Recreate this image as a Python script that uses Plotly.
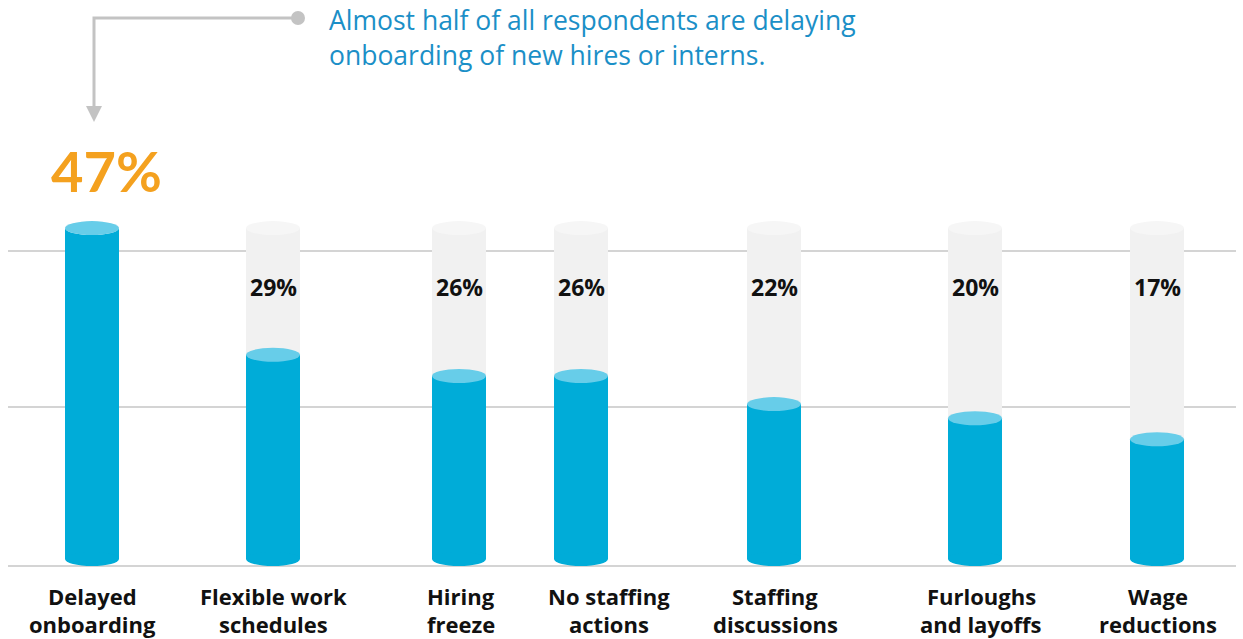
import plotly.graph_objects as go

# Survey results: share of respondents taking each staffing action
categories = [
    "Delayed<br>onboarding",
    "Flexible work<br>schedules",
    "Hiring<br>freeze",
    "No staffing<br>actions",
    "Staffing<br>discussions",
    "Furloughs<br>and layoffs",
    "Wage<br>reductions",
]
values = [47, 29, 26, 26, 22, 20, 17]
value_labels = ["47%", "29%", "26%", "26%", "22%", "20%", "17%"]
headline_lines = ["Almost half of all respondents are delaying",
                  "onboarding of new hires or interns."]

# Layout constants (canvas is laid out in pixel units)
W, H = 1243, 639
COL_X = [92, 273, 459, 581, 774, 975, 1157]        # column centres
LABEL_SHIFT = [0, 0, 2, 28, 1, 6, 1]               # nudges for category captions
BAR_W = 54
ZERO_PX = 559          # pixel row of the value 0
PX_PER_UNIT = 7.04     # pixels per percentage point

BLUE = "#00acd8"
BLUE_TOP = "#67cde9"
GREY = "#f1f1f1"
GREY_TOP = "#f6f6f6"
LINE = "#c6c6c6"
ORANGE = "#f4a11f"
TEXT_BLUE = "#1b8fc7"
FONT = "Open Sans"
FONT_BIG = "Lato"

y_max = ZERO_PX / PX_PER_UNIT
y_min = -(H - ZERO_PX) / PX_PER_UNIT


def pyp(px):
    """pixel row -> paper fraction"""
    return 1 - px / H


full = max(values)

fig = go.Figure()
fig.add_trace(go.Bar(x=COL_X, y=[full] * len(values), width=BAR_W,
                     marker=dict(color=GREY, line=dict(width=0)), hoverinfo="skip"))
fig.add_trace(go.Bar(x=COL_X, y=values, width=BAR_W,
                     marker=dict(color=BLUE, line=dict(width=0)),
                     hovertext=[c.replace("<br>", " ") for c in categories]))

shapes = []
# horizontal rules
for row in (251, 407, 566):
    shapes.append(dict(type="line", xref="x", yref="paper", x0=8, x1=1236,
                       y0=pyp(row), y1=pyp(row), layer="below",
                       line=dict(color=LINE, width=1.5)))


def ellipse(xc, yc, color):
    return dict(type="circle", xref="x", yref="y", xsizemode="pixel", ysizemode="pixel",
                xanchor=xc, yanchor=yc, x0=-BAR_W / 2, x1=BAR_W / 2, y0=-7, y1=7,
                fillcolor=color, line=dict(width=0), layer="above")


for xc in COL_X:
    shapes.append(ellipse(xc, full, GREY_TOP))
for xc in COL_X:
    shapes.append(ellipse(xc, 0, BLUE))
for xc, v in zip(COL_X, values):
    shapes.append(ellipse(xc, v, BLUE_TOP))

# callout connector: dot, elbow line and arrowhead
shapes.append(dict(type="circle", xref="x", yref="paper",
                   x0=291, x1=305, y0=pyp(25), y1=pyp(11),
                   fillcolor="#c3c3c3", line=dict(width=0)))
shapes.append(dict(type="path", xref="x", yref="paper",
                   path=f"M 298 {pyp(18)} L 94 {pyp(18)} L 94 {pyp(108)}",
                   line=dict(color="#c3c3c3", width=3)))
shapes.append(dict(type="path", xref="x", yref="paper",
                   path=f"M 86 {pyp(106)} L 102 {pyp(106)} L 94 {pyp(122)} Z",
                   fillcolor="#c3c3c3", line=dict(width=0)))

annotations = []
# headline, one annotation per line
for row, line in zip((20, 55), headline_lines):
    annotations.append(dict(x=328, y=pyp(row), xref="x", yref="paper", text=line,
                            showarrow=False, xanchor="left", yanchor="middle", align="left",
                            borderpad=0,
                            font=dict(family=FONT, size=26.5, color=TEXT_BLUE)))
# lead value, highlighted
annotations.append(dict(x=COL_X[0] + 14, y=pyp(170), xref="x", yref="paper",
                        text=f"<b>{value_labels[0]}</b>", showarrow=False,
                        xanchor="center", yanchor="middle",
                        font=dict(family=FONT_BIG, size=56, color=ORANGE)))
# remaining values inside the cylinders
for xc, lab in zip(COL_X[1:], value_labels[1:]):
    annotations.append(dict(x=xc, y=pyp(287), xref="x", yref="paper",
                            text=f"<b>{lab}</b>", showarrow=False,
                            xanchor="center", yanchor="middle",
                            font=dict(family=FONT, size=23, color="#111111")))
# category captions, two lines each
for xc, dx, cat in zip(COL_X, LABEL_SHIFT, categories):
    for row, part in zip((596, 624), cat.split("<br>")):
        annotations.append(dict(x=xc + dx, y=pyp(row), xref="x", yref="paper",
                                text=f"<b>{part}</b>", showarrow=False, align="center",
                                xanchor="center", yanchor="middle", borderpad=0,
                                font=dict(family=FONT, size=22, color="#111111")))

fig.update_layout(
    width=W, height=H,
    margin=dict(l=0, r=0, t=0, b=0),
    paper_bgcolor="white", plot_bgcolor="white",
    barmode="overlay", bargap=0, showlegend=False,
    xaxis=dict(range=[0, W], visible=False, fixedrange=True),
    yaxis=dict(range=[y_min, y_max], visible=False, fixedrange=True),
    shapes=shapes, annotations=annotations,
)

fig.write_html("out.html")
